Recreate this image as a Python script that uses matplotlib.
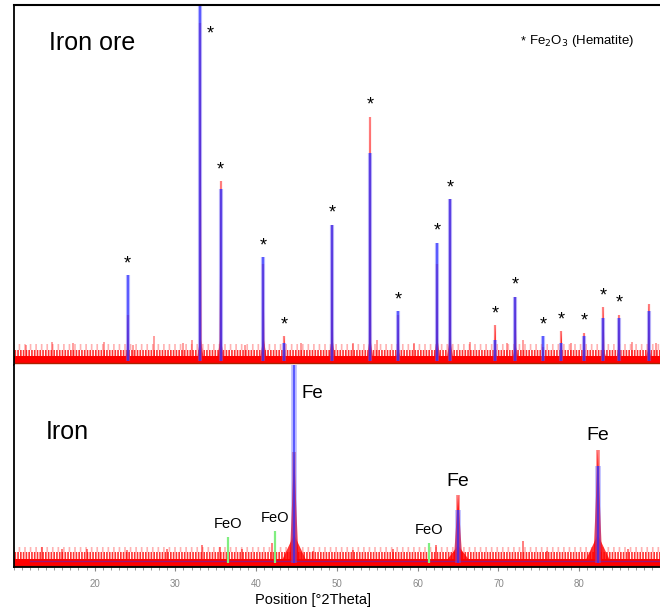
import matplotlib
matplotlib.use("Agg")
import matplotlib.pyplot as plt
from matplotlib.ticker import MultipleLocator

plt.rcParams['font.family'] = ['Liberation Sans', 'DejaVu Sans']
plt.rcParams['hatch.linewidth'] = 1.2

# Iron ore: hematite reflections (deg 2theta), observed / calculated height (% of panel)
hem_pos = [24.1, 33.1, 35.6, 40.9, 43.5, 49.4, 54.1, 57.6, 62.4, 64.0,
           69.6, 72.1, 75.5, 77.8, 80.6, 83.0, 84.9, 88.6]
hem_obs = [14, 95, 51, 28, 8, 39, 69, 14, 28, 46, 11, 19, 5, 9.5, 9, 16, 14, 17]
hem_calc = [25, 104, 49, 30, 6, 39, 59, 15, 34, 46, 7, 19, 8, 6, 8, 13, 13, 15]
hem_star = [True] * 17 + [False]

# small background bumps, iron ore
bump_top_pos = [11.5, 14.7, 17.3, 21.2, 24.8, 27.4, 31.0, 32.0, 38.6, 45.5,
                52.0, 55.0, 59.5, 66.5, 71.0, 73.0, 79.0, 86.5, 89.5]
bump_top_h = [5.5, 6.5, 6, 6.5, 5.5, 8, 6, 7, 5.5, 6, 6, 7, 6, 6.5, 6, 7, 6, 6.5, 6]

# Iron: Fe reflections
fe_pos = [44.7, 65.0, 82.3]
fe_obs = [57, 35.6, 58]
fe_calc = [105, 28, 50]

# FeO reference lines
feo_pos = [36.5, 42.3, 61.4]
feo_h = [15, 18, 12]

# small peaks / bumps, iron
bump_bot_pos = [13.5, 16.0, 19.0, 24.0, 29.0, 33.3, 35.5, 36.5, 38.2, 42.0,
                47.0, 52.0, 57.0, 62.3, 73.0, 76.0, 86.0]
bump_bot_h = [10, 9, 9, 8.5, 9, 11, 10, 15, 9, 12, 8, 8.5, 9, 11, 13, 8, 9]

xmin, xmax = 10, 90
red = '#ff0000'
blue = '#2b2bff'


def draw_background(ax, lo, mid, hi, top):
    ax.fill_between([xmin, xmax], lo, mid, color=red, lw=0)
    ax.fill_between([xmin, xmax], mid, hi, facecolor='none',
                    edgecolor=(1, 0, 0, 0.8), hatch='||||||', lw=0)
    ax.fill_between([xmin, xmax], hi, top, facecolor='none',
                    edgecolor=(1, 0, 0, 0.3), hatch='|||', lw=0)
    ax.plot([xmin, xmax], [lo, lo], color='#aa2200', lw=1)


def draw_peaks(ax, pos, obs, calc, base, w, foot, lw):
    for p, o in zip(pos, obs):
        ax.fill([p - w, p, p + w], [base, o, base], color=red, alpha=0.8, lw=0)
        f = min(0.3 * o, foot)
        ax.fill([p - 3 * w, p, p + 3 * w], [base, f, base], color=red, alpha=0.8, lw=0)
    ax.vlines(pos, base, obs, color=red, lw=lw, alpha=0.5)
    ax.vlines(pos, base, calc, color='#6060ff', lw=lw + 1.4, alpha=0.45)
    ax.vlines(pos, base, calc, color=blue, lw=1.1, alpha=0.85)


fig = plt.figure(figsize=(6.6, 6.1), dpi=100)
ax1 = fig.add_axes([0.021, 0.4016, 0.979, 0.5904])
ax2 = fig.add_axes([0.021, 0.0705, 0.979, 0.3311])

# top panel: iron ore
draw_background(ax1, 0.5, 2.5, 4.3, 5.8)
ax1.vlines(bump_top_pos, 0.5, bump_top_h, color=red, lw=1.2, alpha=0.45)
draw_peaks(ax1, hem_pos, hem_obs, hem_calc, 1, 0.15, 8, 1.6)
for p, o, c, s in zip(hem_pos, hem_obs, hem_calc, hem_star):
    if not s:
        continue
    top = max(o, c)
    if top > 92:
        ax1.annotate('*', (p, 92), xytext=(7, 0), textcoords='offset points',
                     ha='center', va='center', fontsize=13)
    else:
        ax1.annotate('*', (p, top), xytext=(0, 2), textcoords='offset points',
                     ha='center', va='bottom', fontsize=13)

ax1.text(0.055, 0.895, 'Iron ore', transform=ax1.transAxes, fontsize=18,
         ha='left', va='center')
ax1.text(0.785, 0.898, '*', transform=ax1.transAxes, fontsize=9, ha='left', va='center')
ax1.text(0.797, 0.9, 'Fe$_2$O$_3$ (Hematite)', transform=ax1.transAxes, fontsize=9.5,
         ha='left', va='center')

# bottom panel: iron
draw_background(ax2, 0.5, 4, 7.5, 10)
ax2.vlines(bump_bot_pos, 0.5, bump_bot_h, color=red, lw=1.2, alpha=0.6)
ax2.plot([xmin + 2, xmax], [3, 3], color=blue, lw=1, alpha=0.45)
ax2.vlines(feo_pos, 2, feo_h, color='#80ee80', lw=1.6)
draw_peaks(ax2, fe_pos, fe_obs, fe_calc, 2, 0.55, 16, 2.6)

ax2.annotate('Fe', (fe_pos[0], 86), xytext=(5, 0), textcoords='offset points',
             ha='left', va='center', fontsize=13.5)
for p, o in zip(fe_pos[1:], fe_obs[1:]):
    ax2.annotate('Fe', (p, o), xytext=(0, 4), textcoords='offset points',
                 ha='center', va='bottom', fontsize=14)
for p, h in zip(feo_pos, feo_h):
    ax2.annotate('FeO', (p, h), xytext=(0, 4), textcoords='offset points',
                 ha='center', va='bottom', fontsize=10.5)
ax2.text(0.05, 0.67, 'Iron', transform=ax2.transAxes, fontsize=18,
         ha='left', va='center')

for ax in (ax1, ax2):
    ax.set_xlim(xmin, xmax)
    ax.set_ylim(0, 100)
    ax.set_yticks([])
    ax.spines['right'].set_visible(False)
    ax.spines['left'].set_linewidth(1.3)

ax1.spines['bottom'].set_visible(False)
ax1.spines['top'].set_linewidth(1.5)
ax1.set_xticks([])
ax2.spines['top'].set_visible(False)
ax2.spines['bottom'].set_linewidth(1.3)

ax2.xaxis.set_major_locator(MultipleLocator(10))
ax2.xaxis.set_minor_locator(MultipleLocator(1))
ax2.tick_params(axis='x', which='major', length=3, color='#888888',
                labelsize=7, labelcolor='#888888', pad=6)
ax2.tick_params(axis='x', which='minor', length=2, color='#888888')
ax2.set_xticks([20, 30, 40, 50, 60, 70, 80])

fig.text(313 / 660, 1 - 600 / 610, 'Position [°2Theta]', fontsize=10.5,
         ha='center', va='center')

fig.savefig('out.png', dpi=100)
